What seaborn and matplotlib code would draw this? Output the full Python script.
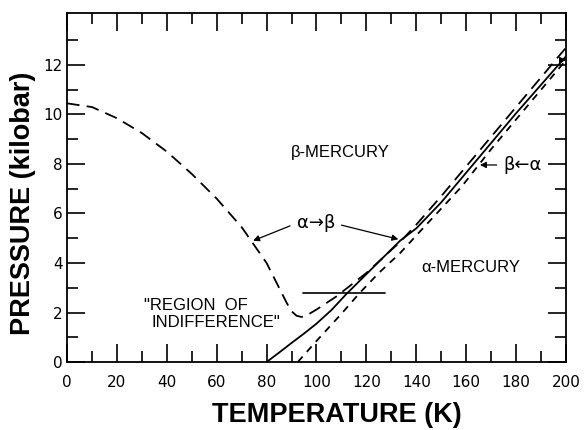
import numpy as np
import pandas as pd
import matplotlib
matplotlib.use("Agg")
import matplotlib.pyplot as plt
import seaborn as sns

# alpha -> beta boundary (long dash), includes the low-T branch
ab_T = [0, 10, 20, 30, 40, 50, 60, 70, 80, 85, 88, 90, 92, 94, 96, 100, 108, 120, 133.5, 140, 150, 160, 170, 180, 190, 200]
ab_P = [10.45, 10.3, 9.85, 9.25, 8.5, 7.6, 6.6, 5.45, 4.0, 3.0, 2.4, 2.05, 1.87, 1.82, 1.88, 2.12, 2.65, 3.6, 4.85, 5.55, 6.7, 7.9, 9.1, 10.3, 11.5, 12.7]

# equilibrium line (solid)
eq_T = [80, 85, 90, 95, 100, 106, 112, 120, 133.5, 140, 150, 160, 170, 180, 190, 200]
eq_P = [0, 0.38, 0.77, 1.15, 1.55, 2.1, 2.75, 3.55, 4.9, 5.4, 6.45, 7.65, 8.85, 10.05, 11.2, 12.35]

# beta -> alpha boundary (short dash)
ba_T = [92.5, 100, 110, 117.4, 125, 133.5, 142, 150, 158.2, 170, 180, 190, 200]
ba_P = [0, 0.85, 1.95, 2.8, 3.6, 4.4, 5.33, 6.2, 7.09, 8.6, 9.8, 11.0, 12.2]

# "region of indifference" bar
bar_T = [94.7, 127.4]
bar_P = [2.8, 2.8]

x_ticks = list(range(0, 201, 20))
y_ticks = list(range(0, 13, 2))

sns.set_theme(style="ticks")
plt.rcParams['font.family'] = ['Liberation Sans', 'DejaVu Sans']
plt.rcParams.update({'text.color': 'black', 'axes.labelcolor': 'black',
                     'xtick.color': 'black', 'ytick.color': 'black'})

fig = plt.figure(figsize=(5.84, 4.30), dpi=100)
ax = fig.add_axes([0.1147, 0.1581, 0.8545, 0.8117])

sns.lineplot(x=ab_T, y=ab_P, ax=ax, color='black', lw=1.3, estimator=None,
             linestyle=(0, (7, 4)))
sns.lineplot(x=eq_T, y=eq_P, ax=ax, color='black', lw=1.3, estimator=None)
sns.lineplot(x=ba_T, y=ba_P, ax=ax, color='black', lw=1.3, estimator=None,
             linestyle=(0, (4, 3.5)))
sns.lineplot(x=bar_T, y=bar_P, ax=ax, color='black', lw=1.2, estimator=None)

ax.set_xlim(0, 200)
ax.set_ylim(0, 14.1)
ax.set_xticks(x_ticks)
ax.set_xticks(range(10, 200, 20), minor=True)
ax.set_yticks(y_ticks)
ax.set_yticks(range(1, 14, 2), minor=True)
ax.set_xticklabels([str(t) for t in x_ticks], fontfamily='DejaVu Sans', fontsize=11)
ax.set_yticklabels([str(t) for t in y_ticks], fontfamily='DejaVu Sans', fontsize=11)
ax.tick_params(which='both', direction='in', top=True, right=True, width=1.2,
               color='black', labelcolor='black')
ax.tick_params(which='major', length=13)
ax.tick_params(which='minor', length=8)
ax.tick_params(axis='x', which='major', pad=9)
ax.tick_params(axis='y', which='major', pad=3)
for s in ax.spines.values():
    s.set_linewidth(1.3)
    s.set_color('black')

ax.set_xlabel('TEMPERATURE (K)', fontsize=19.5, fontweight='bold', va='center', color='black')
ax.set_ylabel('PRESSURE (kilobar)', fontsize=19.5, fontweight='bold', va='center', color='black')
ax.xaxis.set_label_coords(0.54, -0.152)
ax.yaxis.set_label_coords(-0.088, 0.455)

txt = dict(fontsize=12, color='black')
ax.text(109.4, 8.45, 'β-MERCURY', ha='center', va='center', **txt)
ax.text(162, 3.8, 'α-MERCURY', ha='center', va='center', **txt)
ax.text(51.5, 2.3, '"REGION  OF', ha='center', va='center', **txt)
ax.text(59.5, 1.58, 'INDIFFERENCE"', ha='center', va='center', **txt)
ax.text(100, 5.6, 'α→β', ha='center', va='center', fontsize=13,
        family=['DejaVu Sans'], color='black')
ax.text(182.5, 7.96, 'β←α', ha='center', va='center', fontsize=13,
        family=['DejaVu Sans'], color='black')

arrow = dict(arrowstyle='-|>', lw=0.9, color='black', mutation_scale=9,
             shrinkA=0, shrinkB=0)
ax.annotate('', xy=(74.6, 4.9), xytext=(89.4, 5.5), arrowprops=arrow)
ax.annotate('', xy=(132.8, 4.96), xytext=(110, 5.53), arrowprops=arrow)
ax.annotate('', xy=(165.5, 7.96), xytext=(172.2, 7.96), arrowprops=arrow)
ax.annotate('', xy=(200, 12.2), xytext=(197.5, 12.2), arrowprops=arrow)

fig.savefig('out.png', dpi=100)
